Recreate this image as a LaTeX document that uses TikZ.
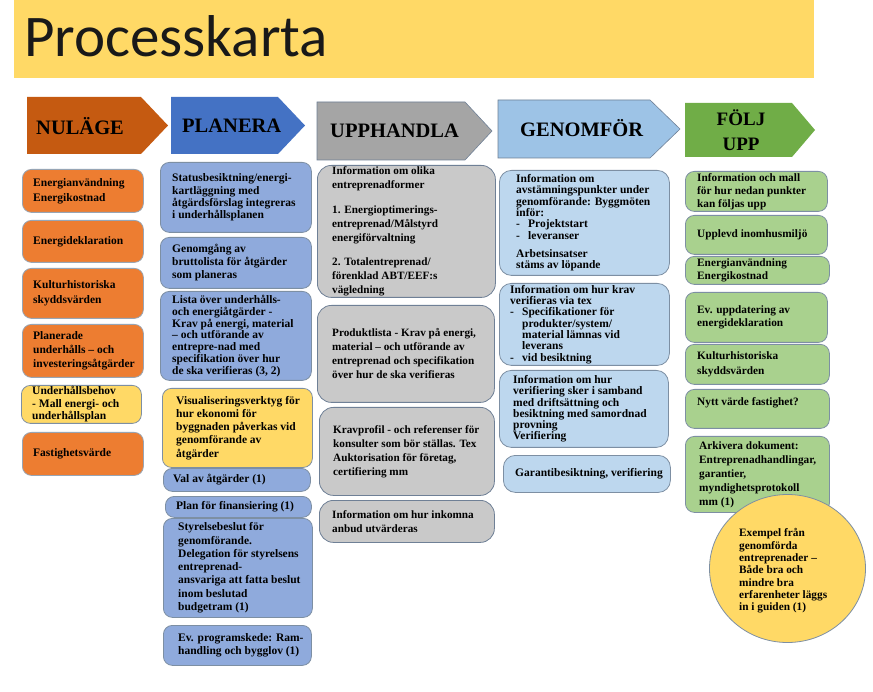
\documentclass[tikz,border=0pt]{standalone}
\usepackage{fontspec}
\setmainfont{Liberation Serif}
\newfontfamily\titlefont{Carlito}
\usetikzlibrary{shapes.geometric}
\definecolor{bannerc}{HTML}{FFD966}
\definecolor{hnul}{HTML}{C55A11}
\definecolor{cnul}{HTML}{ED7D31}
\definecolor{hpla}{HTML}{4472C4}
\definecolor{cpla}{HTML}{8FAADC}
\definecolor{hupp}{HTML}{A5A5A5}
\definecolor{cupp}{HTML}{C9C9C9}
\definecolor{hgen}{HTML}{9DC3E6}
\definecolor{cgen}{HTML}{BDD7EE}
\definecolor{hfol}{HTML}{70AD47}
\definecolor{cfol}{HTML}{A9D18E}
\definecolor{lineA}{HTML}{7D8FA3}
\definecolor{lineH}{HTML}{6F8096}
\newcommand{\cellfont}[2][11.5]{\fontsize{#1}{#2}\selectfont\bfseries}
\newcommand{\cell}[9]{%
  \node[cellbox,#6,anchor=north west,minimum width=#4pt,minimum height=#5pt] (#1) at (#2,#3) {};
  \node[celltext,#7] (#1t) at ([xshift=#8pt]#1.west) {#9};}
\newcommand{\dash}{\makebox[12pt][l]{-}}
\begin{document}
\begin{tikzpicture}[x=1pt,y=-1pt,
  cellbox/.style={draw=lineA, line width=0.8pt, rounded corners=9pt, inner sep=0pt},
  celltext/.style={anchor=west, align=left, inner sep=0pt, text=black, font=\cellfont{14}},
  bs/.style={font=\cellfont{#1}},
  bsz/.style 2 args={font=\cellfont[#1]{#2}},
  nul/.style={fill=cnul, draw=lineA!80},
  yel/.style={fill=bannerc},
  pla/.style={fill=cpla},
  upp/.style={fill=cupp, rounded corners=14pt, draw=lineH},
  gen/.style={fill=cgen, rounded corners=12pt},
  fol/.style={fill=cfol},
  hdrtext/.style={font=\fontsize{20.5}{24}\selectfont\bfseries, inner sep=0pt, anchor=west, text=black}]
\fill[white] (0,0) rectangle (873,692);
\useasboundingbox (0,0) rectangle (873,692);
% banner
\fill[bannerc] (14,0) rectangle (814,78);
\node[anchor=base west, inner sep=0pt, font=\titlefont\fontsize{59}{60}\selectfont, text=black!90] (title) at (24,57) {Processkarta};
% headers
\fill[hnul] (27,97) -- (141,97) -- (168,125.5) -- (141,154) -- (27,154) -- cycle;
\node[hdrtext] (hNul) at (36,126) {NULÄGE};
\fill[hpla] (171,97) -- (278,97) -- (305,125.5) -- (278,154) -- (171,154) -- cycle;
\node[hdrtext] (hPla) at (182,126) {PLANERA};
\filldraw[fill=hupp, draw=lineH, line width=0.6pt] (317,102) -- (465,102) -- (492,131) -- (465,160) -- (317,160) -- cycle;
\node[hdrtext] (hUpp) at (330,131) {UPPHANDLA};
\filldraw[fill=hgen, draw=lineH, line width=0.6pt] (498,100) -- (650,100) -- (680,129) -- (650,158) -- (498,158) -- cycle;
\node[hdrtext] (hGen) at (520,128) {GENOMFÖR};
\fill[hfol] (685,103) -- (792,103) -- (815,130) -- (792,157) -- (685,157) -- cycle;
\node[hdrtext, anchor=center, align=center, font=\fontsize{19}{25}\selectfont\bfseries] (hFol) at (741,130) {FÖLJ\\UPP};
% NULÄGE column
\cell{n1}{22}{169}{121}{43}{nul}{bs=15}{11}{Energianvändning\\Energikostnad}
\cell{n2}{22}{220}{121}{42}{nul}{bs=15}{11}{Energideklaration}
\cell{n3}{22}{268}{121}{50}{nul}{bs=15}{11}{Kulturhistoriska\\skyddsvärden}
\cell{n4}{22}{324}{121}{53}{nul}{bs=14}{11}{Planerade\\underhålls – och\\investeringsåtgärder}
\cell{n5}{21}{385}{120}{38}{yel}{bs=12.5}{11}{Underhållsbehov\\- Mall energi- och\\underhållsplan}
\cell{n6}{22}{432}{121}{43}{nul}{bs=15}{11}{Fastighetsvärde}
% PLANERA column
\cell{p1}{160}{162}{151}{70}{pla}{bs=12.2}{12}{Statusbesiktning/energi-\\kartläggning med\\åtgärdsförslag integreras\\i underhållsplanen}
\cell{p2}{160}{237}{151}{51}{pla}{bs=13}{12}{Genomgång av\\bruttolista för åtgärder\\som planeras}
\cell{p3}{160}{291}{151}{89}{pla}{bs=11.8}{12}{Lista över underhålls-\\och energiåtgärder -\\Krav på energi, material\\– och utförande av\\entrepre-nad med\\specifikation över hur\\de ska verifieras (3, 2)}
\cell{p4}{162}{388}{150}{79}{yel}{bs=13.3}{14}{Visualiseringsverktyg för\\hur ekonomi för\\byggnaden påverkas vid\\genomförande av\\åtgärder}
\cell{p5}{163}{468}{147}{23}{pla}{bs=13}{10}{Val av åtgärder (1)}
\cell{p6}{165}{496}{146}{21}{pla}{bs=13}{11}{Plan för finansiering (1)}
\cell{p7}{163}{518}{149}{99}{pla}{bs=13.3}{15}{Styrelsebeslut för\\genomförande.\\Delegation för styrelsens\\entreprenad-\\ansvariga att fatta beslut\\inom beslutad\\budgetram (1)}
\cell{p8}{163}{625}{148}{40}{pla}{bs=13.3}{15}{Ev. programskede: Ram-\\handling och bygglov (1)}
% UPPHANDLA column
\cell{u1}{317}{165}{178}{132}{upp}{bsz={11.2}{13.8}}{15}{Information om olika\\entreprenadformer\\[11pt]1. Energioptimerings-\\entreprenad/Målstyrd\\energiförvaltning\\[11pt]2. Totalentreprenad/\\förenklad ABT/EEF:s\\vägledning}
\cell{u2}{317}{305}{177}{97}{upp}{bsz={11.2}{14}}{15}{Produktlista - Krav på energi,\\material – och utförande av\\entreprenad och specifikation\\över hur de ska verifieras}
\cell{u3}{319}{407}{175}{88}{upp}{bsz={11.2}{14}}{14}{Kravprofil - och referenser för\\konsulter som bör ställas. Tex\\Auktorisation för företag,\\certifiering mm}
\cell{u4}{319}{500}{175}{42}{upp}{bsz={11.2}{14}}{13}{Information om hur inkomna\\anbud utvärderas}
% GENOMFÖR column
\cell{g1}{499}{170}{170}{105}{gen}{bs=11.3}{17}{Information om\\avstämningspunkter under\\genomförande: Byggmöten\\inför:\\\dash Projektstart\\\dash leveranser\\[7pt]Arbetsinsatser\\stäms av löpande}
\cell{g2}{499}{283}{170}{82}{gen}{bs=11.3}{11}{Information om hur krav\\verifieras via tex\\\dash Specifikationer för\\\hspace*{12pt}produkter/system/\\\hspace*{12pt}material lämnas vid\\\hspace*{12pt}leverans\\\dash vid besiktning}
\cell{g3}{499}{370}{169}{77}{gen}{bs=11.2}{14}{Information om hur\\verifiering sker i samband\\med driftsättning och\\besiktning med samordnad\\provning\\Verifiering}
\cell{g4}{503}{455}{167}{37}{gen}{bs=13}{12}{Garantibesiktning, verifiering}
% FÖLJ UPP column
\cell{f1}{685}{171}{142}{40}{fol}{bsz={11.3}{13}}{12}{Information och mall\\för hur nedan punkter\\kan följas upp}
\cell{f2}{685}{215}{142}{39}{fol}{bsz={11.3}{13}}{12}{Upplevd inomhusmiljö}
\cell{f3}{685}{256}{144}{28}{fol}{bsz={11.3}{13}}{12}{Energianvändning\\Energikostnad}
\cell{f4}{685}{292}{142}{50}{fol}{bsz={11.3}{13.5}}{12}{Ev. uppdatering av\\energideklaration}
\cell{f5}{685}{344}{144}{40}{fol}{bsz={11.3}{14.5}}{12}{Kulturhistoriska\\skyddsvärden}
\cell{f6}{685}{389}{144}{39}{fol}{bsz={11.3}{14}}{12}{Nytt värde fastighet?\\\mbox{}}
\cell{f7}{685}{436}{144}{76}{fol}{bsz={11.3}{14}}{14}{Arkivera dokument:\\Entreprenadhandlingar,\\garantier,\\myndighetsprotokoll\\mm (1)}
% ellipse
\node[ellipse, fill=bannerc, draw=lineA, line width=0.8pt, minimum width=156pt, minimum height=148pt, inner sep=0pt] (e1) at (787.5,568.5) {};
\node[celltext, bsz={11.3}{12.3}] (e1t) at (739,571) {Exempel från\\genomförda\\entreprenader –\\Både bra och\\mindre bra\\erfarenheter läggs\\in i guiden (1)};
\end{tikzpicture}
\end{document}
